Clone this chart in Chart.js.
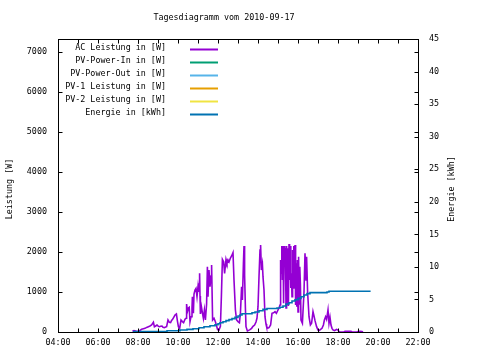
<!DOCTYPE html>
<html>
<head>
<meta charset="utf-8">
<title>Tagesdiagramm vom 2010-09-17</title>
<script src="https://cdn.jsdelivr.net/npm/chart.js@4.4.0/dist/chart.umd.min.js"></script>
<style>
  html, body { margin: 0; padding: 0; background: #fff; }
  #chart { display: block; }
</style>
</head>
<body>
<canvas id="chart" width="480" height="360"></canvas>
<script>
'use strict';

// ── Data (time in decimal hours) ────────────────────────────────────────────
const acTimes = [
  7.72, 7.80, 7.88, 7.95, 8.02, 8.10, 8.18, 8.27, 8.35, 8.43, 8.52, 8.60, 8.68, 8.77, 8.82, 8.88, 8.95,
  9.02, 9.07, 9.13, 9.20, 9.25, 9.32, 9.38, 9.43, 9.50, 9.57, 9.63, 9.68, 9.73, 9.80, 9.85, 9.92, 9.97,
  10.02, 10.08, 10.15, 10.22, 10.28, 10.35, 10.40, 10.43, 10.47, 10.52, 10.56, 10.60, 10.65, 10.70, 10.72,
  10.77, 10.80, 10.85, 10.90, 10.95, 11.00, 11.03, 11.05, 11.08, 11.10, 11.12, 11.17, 11.22, 11.27, 11.32,
  11.37, 11.43, 11.47, 11.50, 11.55, 11.60, 11.65, 11.68, 11.73, 11.80, 11.87, 11.93, 11.98, 12.05, 12.12,
  12.17, 12.22, 12.28, 12.33, 12.40, 12.45, 12.50, 12.55, 12.62, 12.68, 12.75, 12.80, 12.87, 12.93, 13.00,
  13.07, 13.12, 13.18, 13.22, 13.27, 13.30, 13.33, 13.37, 13.40, 13.47, 13.53, 13.60, 13.68, 13.75, 13.83,
  13.90, 13.95, 14.00, 14.05, 14.10, 14.13, 14.17, 14.22, 14.25, 14.30, 14.35, 14.40, 14.43, 14.50, 14.55,
  14.63, 14.70, 14.78, 14.85, 14.92, 15.00, 15.05, 15.10, 15.13, 15.16, 15.19, 15.22, 15.25, 15.28, 15.31,
  15.34, 15.37, 15.40, 15.43, 15.46, 15.49, 15.52, 15.55, 15.58, 15.61, 15.64, 15.67, 15.70, 15.73, 15.76,
  15.79, 15.82, 15.85, 15.88, 15.91, 15.94, 15.97, 16.00, 16.03, 16.06, 16.09, 16.12, 16.15, 16.22, 16.30,
  16.35, 16.40, 16.43, 16.48, 16.55, 16.62, 16.68, 16.75, 16.80, 16.85, 16.93, 17.00, 17.07, 17.13, 17.20,
  17.27, 17.32, 17.38, 17.43, 17.50, 17.55, 17.60, 17.65, 17.70, 17.75, 17.82, 17.88, 17.93, 18.00, 18.05,
  18.10, 18.30, 18.35, 18.45, 18.55, 18.65, 18.70, 18.95, 19.00, 19.10, 19.20, 19.25
];
const acWatts = [
  20, 35, 25, 15, 10, 40, 67, 80, 92, 115, 133, 150, 175, 242, 130, 150, 175,
  140, 133, 145, 150, 120, 108, 125, 133, 300, 240, 233, 290, 317, 380, 425, 450, 280,
  133, 83, 300, 260, 233, 320, 342, 700, 508, 600, 617, 258, 383, 600, 883,
  467, 950, 1050, 1092, 883, 1133, 1000, 1200, 1467, 900, 450, 633, 480, 342, 550,
  300, 700, 1633, 883, 1550, 1133, 1400, 1675, 300, 342, 258, 150, 60, 50, 140,
  900, 1817, 1758, 1467, 1817, 1717, 1800, 1750, 1850, 1900, 1983, 1300, 550, 300, 260,
  233, 467, 1133, 800, 1700, 2150, 1425, 600, 133, 25, 40, 60, 92, 140, 175,
  250, 350, 633, 1383, 2050, 2175, 1550, 1700, 1383, 1050, 383, 200, 133, 100, 108,
  175, 467, 480, 508, 467, 550, 600, 675, 1800, 1467, 2150, 1300, 2150, 717, 2150,
  1900, 2100, 600, 2150, 700, 2092, 650, 2200, 1300, 2150, 1100, 1467, 883, 2050, 1100,
  2150, 1550, 2175, 675, 1717, 633, 1800, 500, 1883, 700, 1633, 1200, 300, 217, 1000,
  1967, 1300, 1883, 1000, 383, 175, 217, 508, 400, 283, 133, 50, 40, 67, 92,
  175, 300, 383, 317, 550, 217, 367, 175, 92, 50, 33, 50, 67, 50, 10,
  0, 0, 15, 20, 15, 18, 0, 0, 12, 15, 12, 0
];

// Energy counter: each value holds until the next time
const energyTimes = [
  7.75, 9.45, 10.1, 10.45, 10.75, 11.05, 11.3, 11.6, 11.85, 12.0, 12.1, 12.25, 12.4, 12.55, 12.7,
  12.85, 13.0, 13.1, 13.2, 13.7, 13.85, 14.05, 14.25, 14.45, 14.95, 15.1, 15.25, 15.4, 15.55, 15.7,
  15.85, 16.0, 16.15, 16.3, 16.45, 16.6, 17.45, 17.55, 19.63
];
const energyKwh = [
  0.05, 0.2, 0.3, 0.4, 0.5, 0.65, 0.8, 0.97, 1.12, 1.27, 1.43, 1.58, 1.75, 1.9, 2.05,
  2.25, 2.45, 2.6, 2.8, 2.95, 3.07, 3.27, 3.48, 3.6, 3.68, 3.79, 3.99, 4.3, 4.5, 4.75,
  4.95, 5.17, 5.42, 5.68, 5.9, 6.04, 6.14, 6.25, 6.25
];

const timeLabels = ['04:00', '06:00', '08:00', '10:00', '12:00', '14:00', '16:00', '18:00', '20:00', '22:00'];
const powerTicks = [0, 1000, 2000, 3000, 4000, 5000, 6000, 7000];
const energyTicks = [0, 5, 10, 15, 20, 25, 30, 35, 40, 45];
const seriesLabels = [
  'AC Leistung in [W]', 'PV-Power-In in [W]', 'PV-Power-Out in [W]',
  'PV-1 Leistung in [W]', 'PV-2 Leistung in [W]', 'Energie in [kWh]'
];

// ── Look (gnuplot defaults) ────────────────────────────────────────────────
const FONT = { family: "'DejaVu Sans Mono', monospace", size: 8.4 };
const INK = '#000';
const COLORS = ['#9400d3', '#009e73', '#56b4e9', '#e69f00', '#f0e442', '#0072b2'];
const TICK = 4;

const toPoints = (xs, ys) => xs.map((x, i) => ({ x, y: ys[i] }));
const fixedTicks = (values) => (scale) => { scale.ticks = values.map(value => ({ value })); };

// ── Frame, inward ticks, title, axis titles and key ──────────────────────
const gnuplotDecor = {
  id: 'gnuplotDecor',
  afterDraw(chart) {
    const { ctx, chartArea: a, scales } = chart;
    const L = Math.round(a.left) + 0.5, R = Math.round(a.right) + 0.5;
    const T = Math.round(a.top) + 0.5, B = Math.round(a.bottom) + 0.5;

    ctx.save();
    ctx.strokeStyle = INK;
    ctx.lineWidth = 1;
    ctx.strokeRect(L, T, R - L, B - T);

    ctx.beginPath();
    scales.x.ticks.forEach(t => {
      const px = Math.round(scales.x.getPixelForValue(t.value)) + 0.5;
      ctx.moveTo(px, B); ctx.lineTo(px, B - TICK);
      ctx.moveTo(px, T); ctx.lineTo(px, T + TICK);
    });
    scales.y.ticks.forEach(t => {
      const py = Math.round(scales.y.getPixelForValue(t.value)) + 0.5;
      ctx.moveTo(L, py); ctx.lineTo(L + TICK, py);
      ctx.moveTo(R, py); ctx.lineTo(R - TICK, py);
    });
    scales.y2.ticks.forEach(t => {
      const py = Math.round(scales.y2.getPixelForValue(t.value)) + 0.5;
      ctx.moveTo(R, py); ctx.lineTo(R - TICK, py);
    });
    ctx.stroke();

    ctx.fillStyle = INK;
    ctx.font = `${FONT.size}px ${FONT.family}`;
    ctx.textBaseline = 'middle';

    // title
    ctx.textAlign = 'center';
    ctx.fillText('Tagesdiagramm vom 2010-09-17', 224, 18);

    // axis titles, reading bottom to top
    [['Leistung [W]', 10], ['Energie [kWh]', 452]].forEach(([txt, x]) => {
      ctx.save();
      ctx.translate(x, 189);
      ctx.rotate(-Math.PI / 2);
      ctx.fillText(txt, 0, 0);
      ctx.restore();
    });

    // key: right-aligned text, sample line to its right
    chart.data.datasets.forEach((ds, i) => {
      const y = 49.5 + i * 13;
      ctx.textAlign = 'right';
      ctx.fillText(ds.label, 166, y - 1.5);
      ctx.strokeStyle = ds.borderColor;
      ctx.lineWidth = 2;
      ctx.beginPath();
      ctx.moveTo(190, y);
      ctx.lineTo(218, y);
      ctx.stroke();
    });
    ctx.restore();
  }
};

const emptySeries = (i) => ({
  label: seriesLabels[i],
  data: [],
  borderColor: COLORS[i],
  yAxisID: 'y',
  order: 2,
});

new Chart(document.getElementById('chart'), {
  type: 'line',
  data: {
    datasets: [
      {
        label: seriesLabels[0],
        data: toPoints(acTimes, acWatts),
        borderColor: COLORS[0],
        borderWidth: 1.6,
        yAxisID: 'y',
        order: 1,
      },
      emptySeries(1),
      emptySeries(2),
      emptySeries(3),
      emptySeries(4),
      {
        label: seriesLabels[5],
        data: toPoints(energyTimes, energyKwh),
        borderColor: COLORS[5],
        borderWidth: 1.6,
        stepped: true,
        yAxisID: 'y2',
        order: 0,
      },
    ],
  },
  options: {
    responsive: false,
    devicePixelRatio: 1,
    animation: false,
    events: [],
    parsing: false,
    elements: { point: { radius: 0 }, line: { tension: 0 } },
    layout: { padding: { top: 39, left: 0, right: 0, bottom: 0 } },
    plugins: { legend: { display: false }, title: { display: false }, tooltip: { enabled: false } },
    scales: {
      x: {
        type: 'linear',
        min: 4,
        max: 22,
        grid: { display: false, drawTicks: false },
        border: { display: false },
        afterFit: (s) => { s.height = 28; },
        ticks: {
          stepSize: 1,
          autoSkip: false,
          maxRotation: 0,
          includeBounds: false,
          padding: 6,
          color: INK,
          font: FONT,
          callback: (v) => (v % 2 === 0 ? timeLabels[(v - 4) / 2] : ''),
        },
      },
      y: {
        position: 'left',
        min: 0,
        max: 7325,
        grid: { display: false, drawTicks: false },
        border: { display: false },
        afterFit: (s) => { s.width = 58; },
        afterBuildTicks: fixedTicks(powerTicks),
        ticks: {
          padding: 11,
          color: INK,
          font: FONT,
          callback: (v) => String(v),
        },
      },
      y2: {
        position: 'right',
        min: 0,
        max: 45,
        grid: { display: false, drawTicks: false },
        border: { display: false },
        afterFit: (s) => { s.width = 62; },
        afterBuildTicks: fixedTicks(energyTicks),
        ticks: {
          padding: 11,
          color: INK,
          font: FONT,
          callback: (v) => String(v),
        },
      },
    },
  },
  plugins: [gnuplotDecor],
});
</script>
</body>
</html>
